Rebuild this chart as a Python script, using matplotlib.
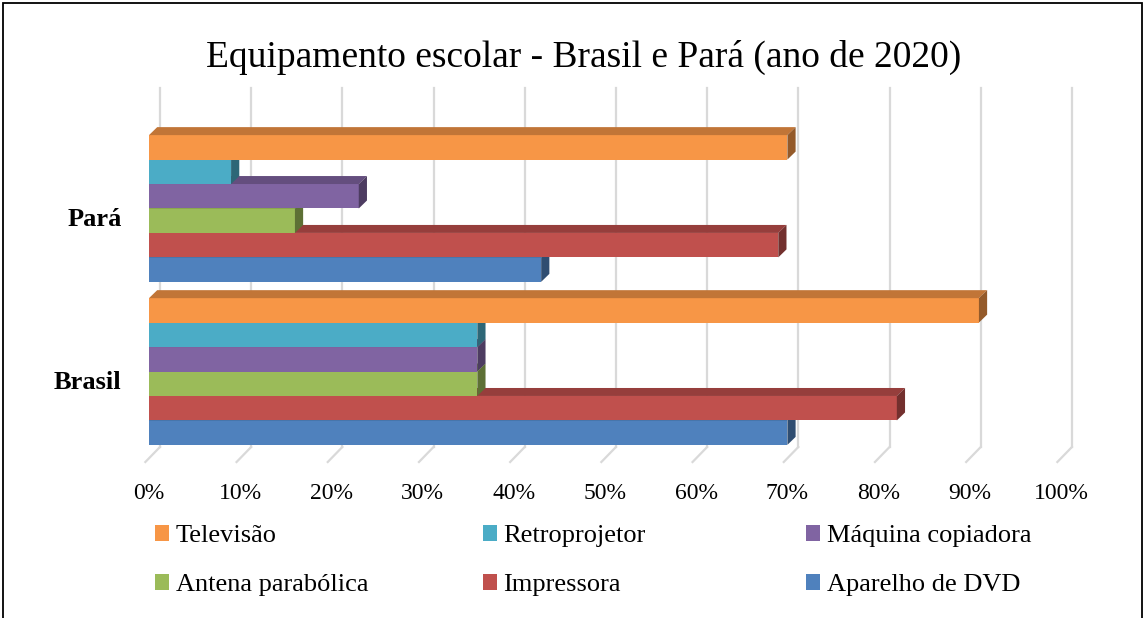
import matplotlib
matplotlib.use('Agg')
from matplotlib import pyplot as plt
from matplotlib.patches import Polygon, Patch, Rectangle
import numpy as np

plt.rcParams['font.family'] = ['Liberation Serif', 'DejaVu Serif']

# data (percent of schools)
categories = ['Brasil', 'Pará']
series = ['Aparelho de DVD', 'Impressora', 'Antena parabólica',
          'Máquina copiadora', 'Retroprojetor', 'Televisão']
colors = ['#4F81BD', '#C0504D', '#9BBB59', '#8064A2', '#4BACC6', '#F79646']
values = {
    'Aparelho de DVD':   [70, 43],
    'Impressora':        [82, 69],
    'Antena parabólica': [36, 16],
    'Máquina copiadora': [36, 23],
    'Retroprojetor':     [36, 9],
    'Televisão':         [91, 70],
}
x_ticks = list(range(0, 101, 10))
tick_labels = [f'{t}%' for t in x_ticks]


def shade(c, f):
    rgb = np.array(matplotlib.colors.to_rgb(c))
    return tuple(rgb * f)


fig = plt.figure(figsize=(11.45, 6.18), dpi=100)
ax = fig.add_axes([149 / 1145, 1 - 462 / 618, 912 / 1145, (462 - 88) / 618])
ax.set_xlim(0, 100)
ax.set_ylim(-0.555, 1.739)
for s in ax.spines.values():
    s.set_visible(False)
ax.set_yticks([])
ax.set_xticks(x_ticks)
ax.set_xticklabels(tick_labels, fontsize=17)
ax.tick_params(axis='x', length=0, pad=15)

# back wall gridlines with floor slant
floor_front, floor_back = -0.555, -0.463
for t in x_ticks:
    ax.plot([t - 0.4, t + 1.2], [floor_front, floor_back], color='#d9d9d9',
            lw=1.6, clip_on=False, zorder=0)
    ax.plot([t + 1.2, t + 1.2], [floor_back, 1.739], color='#d9d9d9',
            lw=1.6, clip_on=False, zorder=0)

h = 0.15
dx, dy = 0.9, 0.049
ypos = np.arange(len(categories))
for i, name in enumerate(series):
    yc = ypos - 0.45 + h / 2 + i * h
    vals = values[name]
    z = 2 + i
    ax.barh(yc, vals, height=h, color=colors[i], zorder=z, linewidth=0)
    for y, v in zip(yc, vals):
        yb, yt = y - h / 2, y + h / 2
        top = Polygon([(0, yt), (dx, yt + dy), (v + dx, yt + dy), (v, yt)],
                      closed=True, fc=shade(colors[i], 0.78), ec='none', zorder=z)
        side = Polygon([(v, yb), (v, yt), (v + dx, yt + dy), (v + dx, yb + dy)],
                       closed=True, fc=shade(colors[i], 0.6), ec='none', zorder=z)
        ax.add_patch(top)
        ax.add_patch(side)

for y, c in zip(ypos, categories):
    ax.text(-0.03, y - 0.065, c, transform=ax.get_yaxis_transform(),
            ha='right', va='center', fontsize=19, fontweight='bold')

fig.text(584 / 1145, 1 - 57 / 618, 'Equipamento escolar - Brasil e Pará (ano de 2020)',
         ha='center', va='center', fontsize=27)

# legend: three columns, two rows each
columns = [('Televisão', 'Antena parabólica'),
           ('Retroprojetor', 'Impressora'),
           ('Máquina copiadora', 'Aparelho de DVD')]
col_x = [155, 483, 806]
for cx, names in zip(col_x, columns):
    handles = [Patch(facecolor=colors[series.index(n)], edgecolor='none', label=n)
               for n in names]
    fig.legend(handles=handles, loc='upper left',
               bbox_to_anchor=(cx / 1145, 1 - 525 / 618), frameon=False,
               fontsize=19, handlelength=0.53, handleheight=0.53,
               handletextpad=0.25, labelspacing=1.02, borderaxespad=0,
               borderpad=0)

fig.patches.append(Rectangle((3 / 1145, -0.05), 1139 / 1145, 1.05 - 3 / 618,
                             transform=fig.transFigure, fill=False,
                             ec='black', lw=1.3))

fig.savefig('out.png', dpi=100)
